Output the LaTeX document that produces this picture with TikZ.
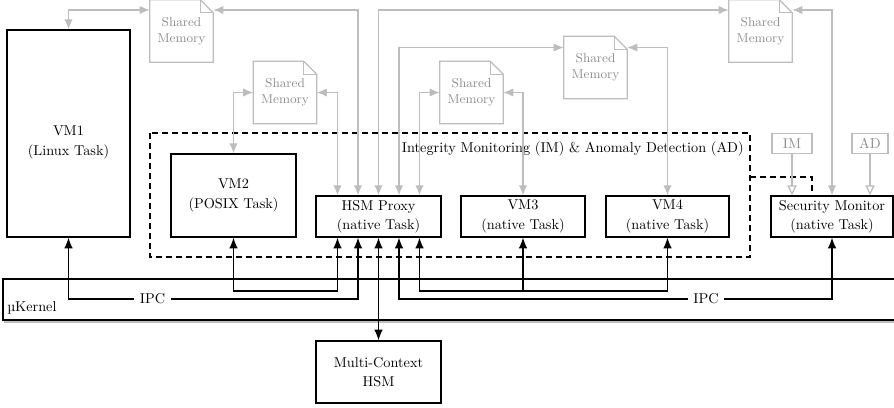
\documentclass[tikz,border=0pt]{standalone}
\usetikzlibrary{arrows.meta,shadows}
\definecolor{linkgray}{HTML}{BDBDBD}
\definecolor{memtext}{HTML}{8E8E8E}
\newcommand\pu{0.7pt}
\tikzset{
  taskbox/.style={draw=black, line width=0.9pt, fill=white, align=center, inner sep=0pt,
    drop shadow={shadow xshift=0.9pt, shadow yshift=-0.9pt, opacity=0.35}},
  plaintext/.style={align=center, inner sep=0pt},
  memnode/.style={align=center, inner sep=0pt, text=memtext, font=\small,
    minimum width=63*\pu, minimum height=62*\pu},
  memline/.style={draw=linkgray, line width=0.9pt, line join=miter},
  tagbox/.style={draw=linkgray, line width=0.9pt, text=memtext, inner sep=0pt,
    minimum height=20*\pu},
  glink/.style={draw=linkgray, line width=0.9pt,
    {Latex[length=7pt,width=5.8pt]}-{Latex[length=7pt,width=5.8pt]}},
  bl/.style={draw=black, line width=0.8pt},
  blink/.style={bl, {Latex[length=7.5pt,width=6pt]}-{Latex[length=7.5pt,width=6pt]}},
  blinkend/.style={bl, -{Latex[length=7.5pt,width=6pt]}},
  hollow/.style={draw=linkgray, line width=0.9pt, -{Triangle[open,length=7pt,width=6.5pt]}},
  region/.style={draw=black, line width=0.8pt, dash pattern=on 4.2pt off 2.8pt},
  ipclabel/.style={fill=white, inner xsep=4pt, inner ysep=1pt},
}
\newcommand\sharedmem[2]{%
  \node[memnode] (#1) at (#2) {Shared\\Memory};
  \draw[memline] (#1.south west) -- (#1.north west) -- ([xshift=-13*\pu]#1.north east)
    -- ([yshift=-13*\pu]#1.north east) -- (#1.south east) -- cycle;
  \draw[memline, line width=0.5pt] ([xshift=-13*\pu]#1.north east)
    |- ([yshift=-13*\pu]#1.north east);
}
\begin{document}
\begin{tikzpicture}[x=0.7pt, y=-0.7pt]
\useasboundingbox (0,0) rectangle (894,408);

% microkernel layer
\node[taskbox, minimum width=902*\pu, minimum height=41*\pu,
  drop shadow={shadow xshift=0.6pt, shadow yshift=-1.8pt, opacity=0.5}] (kernel) at (454,299.5) {};
\node[plaintext, anchor=west] (kname) at (7,308) {µKernel};

% monitored region
\draw[region] (150,133) rectangle (750,257);
\draw[region] (750,177) -- (812,177) -- (812,196);
\node[plaintext, anchor=east] (imad) at (744,149) {Integrity Monitoring (IM) \& Anomaly Detection (AD)};

% tasks
\node[taskbox, minimum width=123*\pu, minimum height=207*\pu] (vm1) at (68.5,133.5) {};
\node[plaintext] (vm1t) at (68.5,142.5) {VM1\\[1.5pt](Linux Task)};
\node[taskbox, minimum width=125*\pu, minimum height=83*\pu] (vm2) at (233.5,195.5) {VM2\\[1.5pt](POSIX Task)};
\node[taskbox, minimum width=125*\pu, minimum height=41*\pu] (hsm) at (378.5,216.5) {HSM Proxy\\[1.5pt](native Task)};
\node[taskbox, minimum width=124*\pu, minimum height=41*\pu] (vm3) at (523,216.5) {VM3\\[1.5pt](native Task)};
\node[taskbox, minimum width=123*\pu, minimum height=41*\pu] (vm4) at (667.5,216.5) {VM4\\[1.5pt](native Task)};
\node[taskbox, minimum width=122*\pu, minimum height=41*\pu] (sec) at (832,216.5) {Security Monitor\\[1.5pt](native Task)};
\node[taskbox, minimum width=125*\pu, minimum height=62*\pu] (mch) at (378.5,372) {Multi-Context\\[1.5pt]HSM};

% monitor inputs
\node[tagbox, minimum width=40*\pu] (im) at (792,143.5) {IM};
\node[tagbox, minimum width=36*\pu] (ad) at (870,143.5) {AD};
\draw[hollow] (im.south) -- (im.south |- sec.north);
\draw[hollow] (ad.south) -- (ad.south |- sec.north);

% shared memory regions
\sharedmem{sm1}{181.5,31}
\sharedmem{sm2}{285,92.5}
\sharedmem{sm3}{471.5,92.5}
\sharedmem{sm4}{595.5,67.5}
\sharedmem{sm5}{760.5,31}

% routing rows and proxy ports
\coordinate (rowA) at (0,10);
\coordinate (rowB) at (0,47.5);
\coordinate (ipcA) at (0,299);
\coordinate (ipcB) at (0,291);
\coordinate (h1) at (337.5,0);
\coordinate (h2) at (358,0);
\coordinate (h3) at (378.5,0);
\coordinate (h4) at (399,0);
\coordinate (h5) at (419.5,0);

% shared memory links
\draw[glink] (vm1.north) |- (sm1.west |- rowA);
\draw[glink] (sm1.east |- rowA) -| (hsm.north -| h2);
\draw[glink] (vm2.north) |- (sm2.west);
\draw[glink] (sm2.east) -| (hsm.north -| h1);
\draw[glink] (hsm.north -| h3) |- (sm5.west |- rowA);
\draw[glink] (hsm.north -| h4) |- (sm4.west |- rowB);
\draw[glink] (hsm.north -| h5) |- (sm3.west);
\draw[glink] (sm3.east) -| (vm3.north);
\draw[glink] (sm4.east |- rowB) -| (vm4.north);
\draw[glink] (sm5.east |- rowA) -| (sec.north);

% IPC links
\draw[blink] (vm1.south) |- (h2 |- ipcA) -- (hsm.south -| h2);
\draw[blink] (vm2.south) |- (h1 |- ipcB) -- (hsm.south -| h1);
\draw[blink] (hsm.south -| h3) -- (mch.north);
\draw[blink] (hsm.south -| h4) |- (sec.south |- ipcA) -- (sec.south);
\draw[blink] (hsm.south -| h5) |- (vm4.south |- ipcB) -- (vm4.south);
\draw[blinkend] (vm3.south |- ipcB) -- (vm3.south);
\node[ipclabel] (ipc1) at (152.5,299) {IPC};
\node[ipclabel] (ipc2) at (706,299) {IPC};
\end{tikzpicture}
\end{document}
